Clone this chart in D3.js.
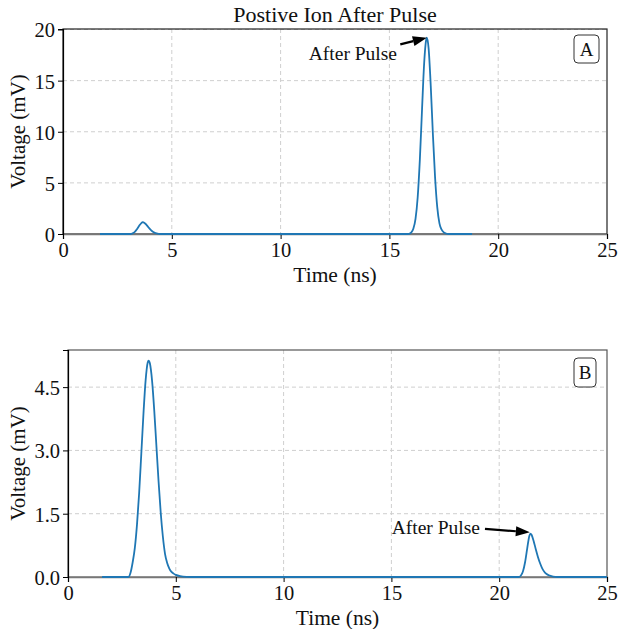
<!DOCTYPE html>
<html>
<head>
<meta charset="utf-8">
<script src="https://cdn.jsdelivr.net/npm/d3@7"></script>
<style>
  body { margin: 0; background: #fff; }
  text { font-family: "Liberation Serif", "DejaVu Serif", serif; fill: #111; }
</style>
</head>
<body>
<div id="viz"></div>
<script>
// panel A: time (ns) and voltage (mV)
let timeA = [1.7, 3.0, 3.1, 3.2, 3.3, 3.4, 3.5, 3.6, 3.66, 3.7, 3.8, 3.9, 4.0, 4.1, 4.2, 4.3, 4.4, 4.5, 6.0,
  10.0, 15.8, 15.9, 16.0, 16.1, 16.2, 16.3, 16.4, 16.5, 16.6, 16.7, 16.72, 16.8, 16.9, 17.0, 17.1, 17.2,
  17.3, 17.4, 17.5, 17.6, 17.7, 18.8]
let voltA = [0, 0, 0, 0.06, 0.2, 0.47, 0.8, 1.07, 1.15, 1.13, 0.98, 0.72, 0.47, 0.27, 0.14, 0.06, 0.02, 0, 0,
  0, 0, 0.02, 0.14, 0.51, 1.49, 3.6, 7.3, 12.2, 16.8, 19.1, 19.2, 18.2, 14.5, 9.7, 5.5, 2.6,
  1.04, 0.42, 0.15, 0.05, 0, 0]

// panel B
let timeB = [1.58, 2.8, 2.9, 3.0, 3.1, 3.2, 3.3, 3.4, 3.5, 3.6, 3.7, 3.74, 3.8, 3.9, 4.0, 4.1, 4.2, 4.3,
  4.4, 4.5, 4.6, 4.7, 4.8, 4.9, 5.0, 5.2, 5.5, 6.0, 10.0, 20.9, 21.0, 21.1, 21.2, 21.3, 21.4, 21.45,
  21.5, 21.6, 21.7, 21.8, 21.9, 22.0, 22.1, 22.2, 22.3, 22.5, 22.7, 25.0]
let voltB = [0, 0, 0.1, 0.35, 0.69, 1.24, 1.99, 2.92, 3.87, 4.66, 5.09, 5.13, 5.06, 4.65, 3.95, 3.11, 2.27, 1.53,
  0.96, 0.55, 0.33, 0.2, 0.12, 0.08, 0.05, 0.02, 0.005, 0, 0, 0, 0.03, 0.13, 0.35, 0.68, 0.98, 1.03,
  1.0, 0.85, 0.65, 0.47, 0.32, 0.2, 0.12, 0.07, 0.04, 0.01, 0, 0]

let xTicks = [0, 5, 10, 15, 20, 25]
let yTicksA = [0, 5, 10, 15, 20]
let yTicksB = [0, 1.5, 3.0, 4.5]

let svg = d3.select('#viz')
  .append('svg')
  .attr('width', 618)
  .attr('height', 629)

let panels = [{
    id: 'A',
    time: timeA,
    volt: voltA,
    yMax: 20.05,
    yTicks: yTicksA,
    yFmt: d3.format('d'),
    left: 63, right: 607, top: 29, bottom: 234,
    frame: '#222',
    note: {x: 16.72, y: 19.2, sx: 15.5, sy: 18.55, tx: 15.35, ty: 17.7},
    box: [574, 35, 25, 28]
  },
  {
    id: 'B',
    time: timeB,
    volt: voltB,
    yMax: 5.38,
    yTicks: yTicksB,
    yFmt: d3.format('.1f'),
    left: 68, right: 607, top: 350, bottom: 577,
    frame: '#555',
    note: {x: 21.42, y: 1.06, sx: 19.34, sy: 1.14, tx: 19.11, ty: 1.18},
    box: [574, 358, 22, 29]
  }
]

svg.append('text')
  .attr('x', 335)
  .attr('y', 22)
  .attr('text-anchor', 'middle')
  .style('font-size', '22px')
  .text('Postive Ion After Pulse')

panels.forEach((p) => {
  let x = d3.scaleLinear().domain([0, 25]).range([p.left, p.right])
  let y = d3.scaleLinear().domain([0, p.yMax]).range([p.bottom, p.top])
  let g = svg.append('g')

  // grid
  g.selectAll('.vg').data(xTicks.slice(1, -1)).enter().append('line')
    .attr('x1', d => x(d)).attr('x2', d => x(d))
    .attr('y1', p.top).attr('y2', p.bottom)
    .attr('stroke', '#cfcfcf').attr('stroke-dasharray', '4,3')
  g.selectAll('.hg').data(p.yTicks.slice(1)).enter().append('line')
    .attr('x1', p.left).attr('x2', p.right)
    .attr('y1', d => y(d)).attr('y2', d => y(d))
    .attr('stroke', '#cfcfcf').attr('stroke-dasharray', '4,3')

  // frame
  g.append('rect')
    .attr('x', p.left).attr('y', p.top)
    .attr('width', p.right - p.left).attr('height', p.bottom - p.top)
    .attr('fill', 'none').attr('stroke', p.frame).attr('stroke-width', 1.2)

  let xAxis = g.append('g')
    .attr('transform', `translate(0,${p.bottom})`)
    .call(d3.axisBottom(x).tickValues(xTicks).tickSize(5).tickPadding(3))
  let yAxis = g.append('g')
    .attr('transform', `translate(${p.left},0)`)
    .call(d3.axisLeft(y).tickValues(p.yTicks).tickFormat(p.yFmt).tickSize(5).tickPadding(3))
  ;[xAxis, yAxis].forEach(a => {
    a.selectAll('text').style('font-size', '20.5px').attr('fill', '#111').style('font-family', '"Liberation Serif", serif')
    a.selectAll('line').attr('stroke', '#000')
  })
  xAxis.select('.domain').attr('stroke', '#777').attr('stroke-width', 1.4)
  yAxis.select('.domain').attr('stroke', '#000').attr('stroke-width', 1.2)
  yAxis.selectAll('text').attr('dy', '0.36em')

  // signal
  let pts = p.time.map((t, i) => [t, p.volt[i]])
  g.append('path')
    .datum(pts)
    .attr('fill', 'none')
    .attr('stroke', '#1f77b4')
    .attr('stroke-width', 1.8)
    .attr('d', d3.line().x(d => x(d[0])).y(d => y(d[1])).curve(d3.curveMonotoneX))

  // annotation arrow
  let n = p.note
  let x0 = x(n.sx), y0 = y(n.sy), x1 = x(n.x), y1 = y(n.y)
  let ang = Math.atan2(y1 - y0, x1 - x0)
  let hl = 14, hw = 5
  let bx = x1 - hl * Math.cos(ang), by = y1 - hl * Math.sin(ang)
  g.append('line')
    .attr('x1', x0).attr('y1', y0).attr('x2', bx).attr('y2', by)
    .attr('stroke', '#000').attr('stroke-width', 2.2)
  g.append('path')
    .attr('d', `M${x1},${y1} L${bx + hw * Math.sin(ang)},${by - hw * Math.cos(ang)} L${bx - hw * Math.sin(ang)},${by + hw * Math.cos(ang)} Z`)
    .attr('fill', '#000')
  g.append('text')
    .attr('x', x(n.tx)).attr('y', y(n.ty))
    .attr('dy', '0.35em')
    .attr('text-anchor', 'end')
    .style('font-size', '19.5px')
    .text('After Pulse')

  // panel label
  g.append('rect')
    .attr('x', p.box[0]).attr('y', p.box[1])
    .attr('width', p.box[2]).attr('height', p.box[3])
    .attr('rx', 4)
    .attr('fill', '#fff').attr('stroke', '#333').attr('stroke-width', 1)
  g.append('text')
    .attr('x', p.box[0] + p.box[2] / 2).attr('y', p.box[1] + p.box[3] / 2)
    .attr('dy', '0.35em')
    .attr('text-anchor', 'middle')
    .style('font-size', '19px')
    .text(p.id)

  g.append('text')
    .attr('x', (p.left + p.right) / 2)
    .attr('y', p.bottom + 48)
    .attr('text-anchor', 'middle')
    .style('font-size', '21.5px')
    .text('Time (ns)')
  g.append('text')
    .attr('transform', `translate(25,${(p.top + p.bottom) / 2}) rotate(-90)`)
    .attr('text-anchor', 'middle')
    .style('font-size', '21px')
    .text('Voltage (mV)')
})
</script>
</body>
</html>
